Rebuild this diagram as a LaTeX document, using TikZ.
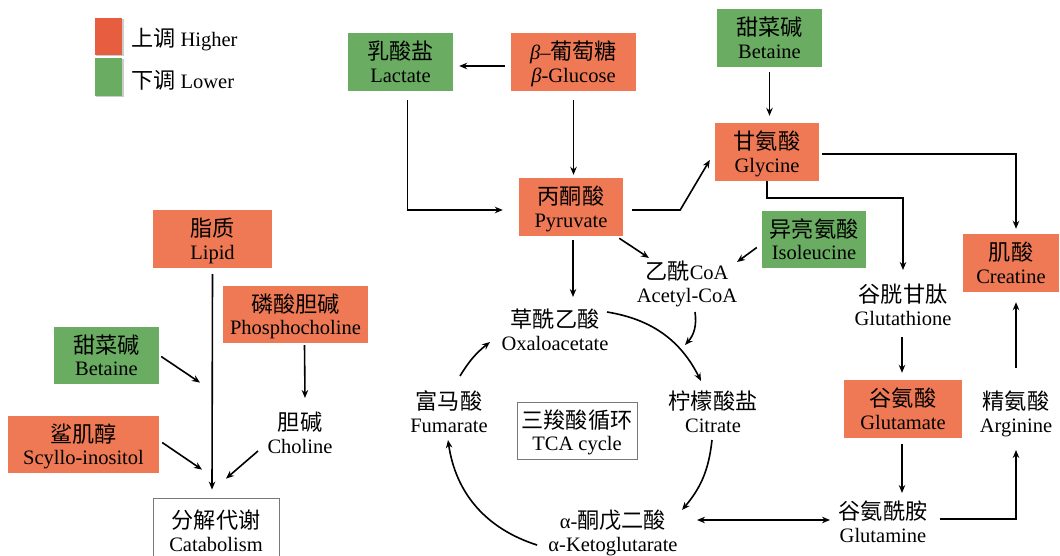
\documentclass[tikz,border=0pt]{standalone}
\usepackage{fontspec}
\setmainfont{Liberation Serif}
\newfontfamily\cjk[Scale=1.08]{Noto Sans CJK SC}
\usetikzlibrary{arrows.meta,calc}
\definecolor{upred}{RGB}{240,121,85}
\definecolor{legred}{RGB}{231,93,64}
\definecolor{dngreen}{RGB}{106,173,98}
\definecolor{boxgray}{RGB}{120,120,120}
\newcommand{\tw}[2]{\raisebox{0pt}[18pt][0pt]{\cjk #1}\\\raisebox{0pt}[14pt][0pt]{#2}}
\begin{document}
\begin{tikzpicture}[x=1pt,y=-1pt,
  every node/.style={font=\fontsize{20.5}{22.5}\selectfont, align=center, inner sep=1pt},
  hibox/.style={fill=upred, minimum height=58pt},
  lobox/.style={fill=dngreen, minimum height=58pt},
  framed/.style={draw=boxgray, line width=0.8pt},
  arr/.style={line width=1.6pt, -{Stealth[length=8pt,width=6.5pt]}},
  darr/.style={line width=1.6pt, {Stealth[length=8pt,width=6.5pt]}-{Stealth[length=8pt,width=6.5pt]}}
]
\useasboundingbox (0,0) rectangle (1060,556);
% legend
\fill[black!20] (96,19.5) rectangle (123.5,56.5);
\fill[black!20] (96,59.5) rectangle (123.5,97.5);
\fill[legred] (95,18) rectangle (122,55);
\fill[dngreen] (95,58) rectangle (122,96);
\node[anchor=west] (legup) at (130,40) {{\cjk 上调} Higher};
\node[anchor=west] (legdn) at (130,80) {{\cjk 下调} Lower};
% boxes
\node[lobox, minimum width=105pt] (lactate) at (400.5,62) {\tw{乳酸盐}{Lactate}};
\node[hibox, minimum width=125pt] (glucose) at (573.5,62) {\raisebox{0pt}[18pt][0pt]{\textit{β}–{\cjk 葡萄糖}}\\\raisebox{0pt}[14pt][0pt]{\textit{β}-Glucose}};
\node[hibox, minimum width=104pt] (pyruvate) at (571,207) {\tw{丙酮酸}{Pyruvate}};
\node[lobox, minimum width=105pt] (betaineT) at (769.5,38) {\tw{甜菜碱}{Betaine}};
\node[hibox, minimum width=104pt] (glycine) at (767,152) {\tw{甘氨酸}{Glycine}};
\node[lobox, minimum width=104pt, minimum height=57pt] (isoleucine) at (814,239.5) {\tw{异亮氨酸}{Isoleucine}};
\node[hibox, minimum width=96pt] (creatine) at (1011,263) {\tw{肌酸}{Creatine}};
\node[hibox, minimum width=119pt] (lipid) at (212.5,239) {\tw{脂质}{Lipid}};
\node[hibox, minimum width=145pt, minimum height=57pt] (phospho) at (295.5,314.5) {\tw{磷酸胆碱}{Phosphocholine}};
\node[lobox, minimum width=105pt, minimum height=57pt] (betaineL) at (106.5,355.5) {\tw{甜菜碱}{Betaine}};
\node[hibox, minimum width=151pt, minimum height=57pt] (scyllo) at (83.5,444.5) {\tw{鲨肌醇}{Scyllo-inositol}};
\node[hibox, minimum width=118pt] (glutamate) at (903,409) {\tw{谷氨酸}{Glutamate}};
\node[framed, minimum width=120pt, minimum height=57pt] (tca) at (577,430.5) {\tw{三羧酸循环}{TCA cycle}};
\node[framed, minimum width=126pt, minimum height=66pt] (catab) at (216,531) {\tw{分解代谢}{Catabolism}};
% plain text nodes
\node (acetyl) at (687,282) {\raisebox{0pt}[18pt][0pt]{{\cjk 乙酰}CoA}\\\raisebox{0pt}[14pt][0pt]{Acetyl-CoA}};
\node (oxa) at (555,330) {\tw{草酰乙酸}{Oxaloacetate}};
\node (citrate) at (713,412) {\tw{柠檬酸盐}{Citrate}};
\node (keto) at (613,531) {\raisebox{0pt}[18pt][0pt]{α-{\cjk 酮戊二酸}}\\\raisebox{0pt}[14pt][0pt]{α-Ketoglutarate}};
\node (fumarate) at (449,412) {\tw{富马酸}{Fumarate}};
\node (glutathione) at (903,305) {\tw{谷胱甘肽}{Glutathione}};
\node (glutamine) at (883,522) {\tw{谷氨酰胺}{Glutamine}};
\node (arginine) at (1016,412) {\tw{精氨酸}{Arginine}};
\node (choline) at (300,433) {\tw{胆碱}{Choline}};
% connectors
\draw[arr] ($(glucose.west)+(-6,4)$) -- ($(lactate.east)+(6,4)$);
\draw[arr] ($(glucose.south)+(0,9)$) -- ($(glucose.south |- pyruvate.north)+(0,-3)$);
\draw[arr] ($(lactate.south)+(7,9)$) |- ($(pyruvate.west)+(-16,3)$);
\draw[arr] ($(pyruvate.east)+(9,3)$) -- ++(48,0) -- ($(glycine.west)+(-5,8)$);
\draw[arr] ($(betaineT.south)+(0,5)$) -- ($(betaineT.south |- glycine.north)+(0,-7)$);
\draw[arr] ($(glycine.east)+(3,2)$) -| ($(creatine.north)+(5,-5)$);
\draw[arr] (glycine.south) -- ++(0,17) -| ($(glutathione.center)+(0,-35)$);
\draw[arr] ($(isoleucine.west)+(-5,8)$) -- ($(acetyl.center)+(50,-20)$);
\draw[arr] ($(pyruvate.south east)+(-4,2)$) -- ($(acetyl.center)+(-38,-24)$);
\draw[arr] ($(pyruvate.south)+(2,4)$) -- ($(oxa.center)+(18,-33)$);
\draw[arr] ($(acetyl.center)+(8,30)$) to[bend left=25] ($(citrate.center)+(-28,-67)$);
\draw[arr] ($(oxa.center)+(52,-18)$) to[bend left=27] ($(citrate.center)+(-12,-31)$);
\draw[arr] ($(citrate.center)+(-1,28)$) to[bend left=17] ($(keto.center)+(69,-21)$);
\draw[arr] ($(keto.center)+(-76,14)$) to[bend left=32] ($(fumarate.center)+(-1,28)$);
\draw[arr] ($(fumarate.center)+(11,-36)$) to[bend left=10] ($(oxa.center)+(-65,12)$);
\draw[darr] ($(keto.center)+(84,-11)$) -- ($(glutamine.center)+(-53,-2)$);
\draw[arr] ($(glutathione.center)+(-1,32)$) -- ($(glutamate.north)+(-1,-7)$);
\draw[arr] ($(glutamate.south)+(-1,6)$) -- ($(glutamine.center)+(19,-29)$);
\draw[arr] ($(glutamine.center)+(57,-3)$) -| ($(arginine.center)+(0,38)$);
\draw[arr] ($(arginine.center)+(0,-44)$) -- ($(creatine.south)+(5,10)$);
\draw[arr] ($(lipid.south)+(0,6)$) -- ($(catab.north)+(-4,-8)$);
\draw[arr] ($(phospho.south)+(9,2)$) -- ($(choline.center)+(5,-35)$);
\draw[arr] ($(betaineL.east)+(2,1)$) -- ($(catab.north)+(-16,-115)$);
\draw[arr] ($(scyllo.east)+(3,-2)$) -- ($(catab.north)+(-14,-28)$);
\draw[arr] ($(choline.center)+(-42,18)$) -- ($(catab.north)+(10,-19)$);
\end{tikzpicture}
\end{document}
